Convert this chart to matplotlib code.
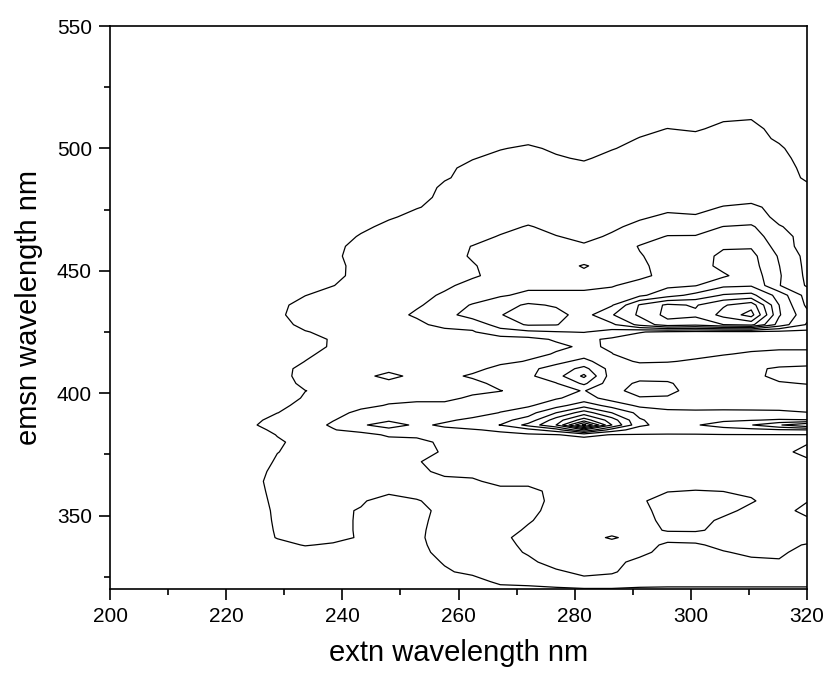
import matplotlib
matplotlib.use("Agg")
import matplotlib.pyplot as plt
from matplotlib.ticker import MultipleLocator
import numpy as np

plt.rcParams['font.family'] = ['Liberation Sans', 'DejaVu Sans']

# excitation wavelengths (grid columns, nm)
ex_nm = [219.2, 224.0, 228.8, 233.6, 238.4, 243.2, 248.0, 252.8, 257.6, 262.4, 267.2,
         272.0, 276.8, 281.6, 286.4, 291.2, 296.0, 300.8, 305.6, 310.4, 315.2, 320.0]

# emission wavelengths (grid rows, nm)
em_nm = [320, 323, 327, 331, 335, 338, 341, 344, 348, 352, 356, 360, 364, 368, 372, 376,
         380, 383, 385, 387, 389, 392, 395, 398, 401, 404, 407, 410, 413, 416, 419, 422,
         425, 428, 432, 436, 440, 444, 448, 452, 456, 460, 464, 468, 472, 476, 480, 484,
         488, 492, 496, 500, 504, 508, 512, 516, 550]

# fluorescence intensity (arbitrary units), one row per emission wavelength
intensity = [
    [0,0,0,0,0,0,0,0,0,0, 0.3,0.6,0.85,0.95,0.95,0.85,0.8,0.8,0.8,0.8,0.8,0.8],
    [0,0,0,0,0,0,0,0,0,0.08, 1.5,1.5,1.5,1.6,1.6,1.5,1.5,1.5,1.5,1.5,1.5,1.5],
    [0,0,0,0,0,0,0,0,0.73,1.5, 1.5,1.5,1.8,2.3,2.1,1.6,1.5,1.5,1.5,1.5,1.5,1.5],
    [0,0,0,0,0,0,0,0,1.17,1.5, 1.5,1.73,2.5,2.5,2.3,1.7,1.5,1.55,1.7,1.85,1.95,1.7],
    [0,0,0,0.3,0,0,0,0.5,1.5,1.5, 1.5,2.13,2.5,2.5,2.5,2.3,1.6,1.7,1.95,2.15,2.1,1.8],
    [0,0,0.5,1.1,0.8,0.3,0,0.7,1.5,1.5, 1.3,2.5,2.5,2.5,2.5,2.5,1.78,1.9,2.2,2.3,2.2,1.95],
    [0,0,1.09,1.5,1.5,0.83,0,0.79,1.5,1.5, 1.67,2.5,2.5,2.5,3.15,2.5,2.4,2.3,2.4,2.5,2.5,2.3],
    [0,0,1.17,1.5,1.5,0.8,0,0.75,1.5,1.5, 1.5,2.17,2.5,2.5,2.5,2.6,3.1,3.15,2.7,2.5,2.5,2.5],
    [0,0,1.26,1.5,1.5,0.8,0,0.64,1.5,1.5, 1.5,1.89,2.5,2.5,2.5,2.6,3.3,3.4,2.8,2.5,2.5,2.8],
    [0,0,1.33,1.5,1.5,0.83,0,0.46,1.5,1.5, 1.5,1.6,2.5,2.5,2.5,2.7,3.4,3.5,3.3,2.7,2.6,3.3],
    [0,0,1.5,1.5,1.5,1.27,0,0.9,1.5,1.5, 1.5,1.31,2.5,2.5,2.5,2.83,3.5,3.5,3.5,3.1,2.5,2.95],
    [0,0.31,1.5,1.5,1.5,1.5,1.5,1.5,1.5,1.5, 1.5,1.5,2.5,2.5,2.5,2.5,2.95,3.05,2.98,2.8,2.6,2.5],
    [0,0.5,1.5,1.5,1.5,1.5,1.5,1.5,1.5,1.75, 2.5,2.5,2.5,2.5,2.5,2.5,2.5,2.5,2.5,2.5,2.5,2.5],
    [0,0.16,1.5,1.5,1.5,1.5,1.5,1.5,2.5,2.5, 2.5,2.5,2.5,2.5,2.5,2.5,2.5,2.5,2.5,2.5,2.5,2.6],
    [0,0,1.2,1.5,1.5,1.5,1.5,1.9,2.5,2.5, 2.5,2.5,2.5,2.5,2.5,2.5,2.5,2.5,2.5,2.5,2.6,2.8],
    [0,0,0.96,1.5,1.5,1.5,1.5,1.5,2.15,2.5, 2.5,2.5,2.5,2.5,2.5,2.5,2.5,2.5,2.5,2.55,2.7,3.3],
    [0,0,0.79,1.5,1.5,1.5,1.5,1.31,2.5,2.5, 2.5,2.5,2.5,2.4,2.5,2.5,2.5,2.5,2.55,2.6,2.7,2.9],
    [0,0,1.07,1.5,1.5,1.5,2.2,2.5,2.55,2.6, 2.7,2.85,2.95,3.3,2.95,2.95,2.95,2.95,2.97,2.97,2.97,2.98],
    [0,0.16,1.5,1.5,1.93,2.5,2.7,2.6,2.8,2.9, 3.2,3.7,4.5,7.0,4.5,3.5,3.3,3.35,3.5,3.7,3.9,4.0],
    [0,0.81,1.5,1.5,2.15,2.85,3.5,2.8,3.15,3.6, 4.02,5.3,7.0,11.3,7.0,4.2,3.6,3.9,4.5,4.95,5.9,6.9],
    [0,0.54,1.5,1.5,1.96,2.5,2.85,2.7,2.85,3.2, 3.7,4.4,6.5,8.5,6.5,4.1,3.5,3.6,3.8,3.95,4.1,4.05],
    [0,0.2,0.98,1.5,1.31,2.5,2.5,2.5,2.55,2.6, 3.03,3.6,5.0,6.5,5.0,3.7,3.3,3.2,3.2,3.15,3.1,3.05],
    [0,0,0.57,1.5,1.5,1.5,2.13,2.5,2.5,2.6, 2.7,2.85,3.6,4.6,3.6,2.8,2.6,2.65,2.7,2.75,2.8,2.4],
    [0,0,0,1.2,1.5,1.5,1.5,1.5,1.5,2.33, 2.5,2.6,2.9,3.4,2.6,2.05,2.08,2.4,2.5,2.5,2.5,2.5],
    [0,0,0.3,0.97,1.5,1.5,1.5,1.5,1.5,1.55, 1.96,2.5,2.7,3.05,2.2,1.75,1.8,2.3,2.5,2.5,2.55,2.6],
    [0,0,0,1.5,1.5,1.5,1.5,1.5,1.5,1.5, 2.5,2.6,2.95,4.2,2.4,1.85,1.9,2.4,2.5,2.7,2.9,3.05],
    [0,0,0.46,1.5,1.5,1.5,2.5,1.5,1.5,2.25, 2.5,2.82,3.6,5.2,2.49,2.3,2.3,2.4,2.5,2.7,3.3,3.6],
    [0,0,0.36,1.5,1.5,1.5,1.5,1.5,1.5,1.5, 2.5,2.75,3.4,4.3,2.6,2.4,2.4,2.5,2.6,2.8,3.15,3.3],
    [0,0,0,1.02,1.5,1.5,1.5,1.5,1.5,1.55, 1.6,2.1,2.7,3.3,2.3,1.9,1.95,2.1,2.3,2.4,2.5,2.5],
    [0,0,0,0.7,1.5,1.5,1.5,1.5,1.5,1.55, 1.6,1.6,2.1,2.6,2.02,1.6,1.75,1.8,1.95,2.1,2.2,2.2],
    [0,0,0,0,1.3,1.5,1.5,1.5,1.55,1.6, 1.65,1.7,1.8,2.15,1.9,1.7,1.7,1.7,1.75,1.8,1.85,1.85],
    [0,0,0,0,1.27,1.5,1.5,1.6,1.6,1.6, 1.65,1.7,2.11,2.2,1.85,1.6,1.55,1.5,1.5,1.5,1.5,1.5],
    [0,0,0.2,0.89,1.5,1.5,1.5,1.5,1.5,1.93, 2.5,2.8,2.95,3.05,2.6,2.05,1.8,1.7,1.7,1.7,1.7,1.7],
    [0,0,0.31,1.5,1.5,1.5,1.5,1.64,2.5,2.25, 3.5,4.1,4.05,3.4,3.8,5.3,6.6,6.3,7.0,7.3,4.6,2.9],
    [0,0,0.79,1.5,1.5,1.5,1.5,2.2,2.6,3.5, 3.97,4.31,4.31,3.6,4.92,6.18,7.3,7.2,8.3,9.4,5.1,3.3],
    [0,0,0.64,1.5,1.5,1.5,1.5,1.85,2.5,3.07, 3.6,4.15,3.9,3.4,3.9,6.1,7.2,6.9,7.9,8.6,5.0,2.8],
    [0,0,0.3,0.97,1.5,1.5,1.5,1.5,2.22,2.5, 2.9,3.2,3.2,3.2,3.5,3.8,4.6,5.3,6.1,6.3,4.6,2.6],
    [0,0,0,0,0.97,1.5,1.5,1.5,1.7,2.5, 2.6,2.8,2.8,2.8,2.9,3.5,3.8,3.95,4.8,4.9,3.05,1.9],
    [0,0,0,0,0.6,1.5,1.5,1.5,1.5,1.8, 2.5,2.6,2.55,2.7,2.6,2.7,3.4,3.6,3.85,4.6,3.1,1.8],
    [0,0,0,0,0.57,1.5,1.5,1.5,1.5,1.9, 2.5,2.6,2.5,3.1,2.5,2.8,3.4,3.5,4.3,4.4,3.02,1.75],
    [0,0,0,0,0.75,1.5,1.5,1.5,1.5,2.12, 2.5,2.6,2.5,2.4,2.5,2.95,3.3,3.6,4.2,4.3,2.9,1.7],
    [0,0,0,0,0.6,1.5,1.5,1.5,1.5,2.04, 2.5,2.6,2.5,2.15,2.5,3.05,3.4,3.5,3.9,3.9,2.6,1.5],
    [0,0,0,0,0,1.2,1.5,1.5,1.5,1.5, 2.1,2.5,2.05,1.7,2.15,2.6,3.05,3.05,3.3,3.5,2.4,1.6],
    [0,0,0,0,0,0.55,1.5,1.5,1.5,1.5, 1.6,2.1,1.6,1.5,1.8,2.3,2.5,2.6,3.02,3.15,2.05,1.7],
    [0,0,0,0,0,0.3,0.77,1.5,1.5,1.5, 1.5,1.5,1.5,1.5,1.6,1.85,2.2,2.1,2.35,2.4,1.8,1.6],
    [0,0,0,0,0,0,0.4,0.9,1.5,1.5, 1.5,1.5,1.5,1.5,1.5,1.6,1.75,1.7,2.05,2.25,1.6,1.5],
    [0,0,0,0,0,0,0.2,0.36,1.5,1.5, 1.5,1.5,1.5,1.5,1.5,1.5,1.5,1.5,1.6,1.6,1.5,1.5],
    [0,0,0,0,0,0,0,0.2,1.3,1.5, 1.5,1.5,1.5,1.5,1.5,1.5,1.5,1.5,1.5,1.5,1.5,1.2],
    [0,0,0,0,0,0,0,0.1,0.85,1.5, 1.5,1.5,1.5,1.5,1.5,1.5,1.5,1.5,1.5,1.5,1.5,0.85],
    [0,0,0,0,0,0,0,0.2,0.6,1.5, 1.5,1.5,1.5,1.5,1.5,1.5,1.5,1.5,1.5,1.5,1.5,0.7],
    [0,0,0,0,0,0,0,0,0.3,0.9, 1.5,1.5,1.2,0.8,1.5,1.5,1.5,1.5,1.5,1.5,1.5,0.35],
    [0,0,0,0,0,0,0,0,0,0.3, 0.9,1.3,0.7,0.6,0.9,1.5,1.5,1.5,1.5,1.5,1.2,0.2],
    [0,0,0,0,0,0,0,0,0,0, 0.3,0.5,0.4,0.3,0.6,1.05,1.5,1.5,1.5,1.5,0.8,0],
    [0,0,0,0,0,0,0,0,0,0, 0,0.2,0.2,0.1,0.4,0.7,1.02,0.8,1.4,1.5,0.4,0],
    [0,0,0,0,0,0,0,0,0,0, 0,0,0,0,0,0.3,0.5,0.5,0.85,0.97,0.2,0],
    [0,0,0,0,0,0,0,0,0,0, 0,0,0,0,0,0,0,0,0,0,0,0],
    [0,0,0,0,0,0,0,0,0,0, 0,0,0,0,0,0,0,0,0,0,0,0],
]

contour_levels = [1, 2, 3, 4, 5, 6, 7, 8, 9, 10, 11]

fig = plt.figure(figsize=(8.26, 6.76), dpi=100)
ax = fig.add_axes([0.1332, 0.1287, 0.8438, 0.8328])

ax.contour(ex_nm, em_nm, np.array(intensity), levels=contour_levels,
           colors='black', linewidths=0.9)

ax.set_xlim(200, 320)
ax.set_ylim(320, 550)
ax.xaxis.set_major_locator(MultipleLocator(20))
ax.xaxis.set_minor_locator(MultipleLocator(10))
ax.yaxis.set_major_locator(MultipleLocator(50))
ax.yaxis.set_minor_locator(MultipleLocator(25))
ax.tick_params(which='both', direction='out', top=False, right=False, width=1.2)
ax.tick_params(which='major', length=8, labelsize=15, pad=5)
ax.tick_params(which='minor', length=4)
for s in ax.spines.values():
    s.set_linewidth(1.2)

ax.set_xlabel('extn wavelength nm', fontsize=21, labelpad=9)
ax.set_ylabel('emsn wavelength nm', fontsize=21, labelpad=10)

fig.savefig('out.png', dpi=100)
